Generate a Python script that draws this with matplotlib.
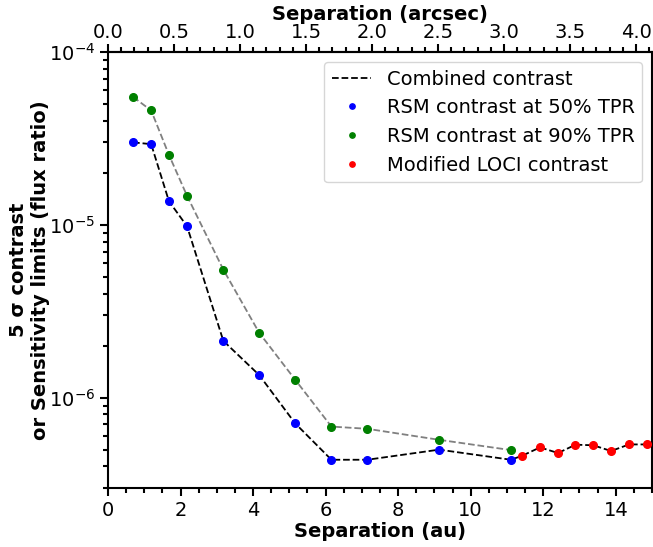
import numpy as np
import matplotlib
matplotlib.use("Agg")
import matplotlib.pyplot as plt
from matplotlib.ticker import MultipleLocator, LogLocator, NullFormatter

# RSM contrast at 50% TPR
rsm50_sep = [0.69, 1.19, 1.68, 2.18, 3.18, 4.17, 5.16, 6.16, 7.15, 9.13, 11.11]
rsm50_con = [3.0e-5, 2.93e-5, 1.37e-5, 9.8e-6, 2.13e-6, 1.35e-6, 7.1e-7, 4.37e-7, 4.37e-7, 5.0e-7, 4.37e-7]

# RSM contrast at 90% TPR
rsm90_sep = [0.69, 1.19, 1.68, 2.18, 3.18, 4.17, 5.16, 6.16, 7.15, 9.13, 11.11]
rsm90_con = [5.5e-5, 4.59e-5, 2.54e-5, 1.47e-5, 5.5e-6, 2.37e-6, 1.27e-6, 6.8e-7, 6.6e-7, 5.7e-7, 4.97e-7]

# Modified LOCI contrast
loci_sep = [11.42, 11.91, 12.41, 12.89, 13.38, 13.87, 14.37, 14.87]
loci_con = [4.61e-7, 5.15e-7, 4.78e-7, 5.34e-7, 5.3e-7, 4.91e-7, 5.36e-7, 5.36e-7]

distance_pc = 3.64

comb_sep = rsm50_sep + loci_sep
comb_con = rsm50_con + loci_con

plt.rcParams['font.family'] = 'DejaVu Sans'
fig = plt.figure(figsize=(6.53, 5.47), dpi=100)
ax = fig.add_axes([0.1654, 0.1079, 0.8331, 0.797])

ax.plot(rsm90_sep, rsm90_con, ls='--', color='gray', lw=1.3, zorder=2)
ax.plot(comb_sep, comb_con, ls='--', color='black', lw=1.3, zorder=2, label='Combined contrast')
ax.plot(rsm50_sep, rsm50_con, 'o', color='blue', ms=5.5, ls='none', zorder=3, label='RSM contrast at 50% TPR')
ax.plot(rsm90_sep, rsm90_con, 'o', color='green', ms=5.5, ls='none', zorder=3, label='RSM contrast at 90% TPR')
ax.plot(loci_sep, loci_con, 'o', color='red', ms=5.5, ls='none', zorder=3, label='Modified LOCI contrast')

ax.set_yscale('log')
ax.set_xlim(0, 15)
ax.set_ylim(3e-7, 1e-4)
ax.xaxis.set_major_locator(MultipleLocator(2))
ax.xaxis.set_minor_locator(MultipleLocator(0.5))
ax.yaxis.set_major_locator(LogLocator(base=10, numticks=10))
ax.yaxis.set_minor_locator(LogLocator(base=10, subs=np.arange(2, 10), numticks=20))
ax.yaxis.set_minor_formatter(NullFormatter())

for s in ax.spines.values():
    s.set_linewidth(1.5)
ax.tick_params(which='major', length=6, width=1.5, labelsize=14, direction='out')
ax.tick_params(which='minor', length=3.5, width=1.5, direction='out')

ax.set_xlabel('Separation (au)', fontsize=14, fontweight='bold', labelpad=1)
ax.set_ylabel('5 σ contrast\nor Sensitivity limits (flux ratio)', fontsize=14, fontweight='bold', labelpad=-1)

sec = ax.secondary_xaxis('top', functions=(lambda x: x / distance_pc, lambda x: x * distance_pc))
sec.xaxis.set_major_locator(MultipleLocator(0.5))
sec.xaxis.set_minor_locator(MultipleLocator(0.1))
sec.tick_params(which='major', length=6, width=1.5, labelsize=14, pad=1.5)
sec.tick_params(which='minor', length=3.5, width=1.5)
sec.spines['top'].set_linewidth(1.5)
sec.set_xlabel('Separation (arcsec)', fontsize=14, fontweight='bold', labelpad=2)

ax.legend(loc='upper right', fontsize=14, markerscale=0.7, handlelength=2.0, borderaxespad=0.5)

fig.savefig('out.png', dpi=100)
